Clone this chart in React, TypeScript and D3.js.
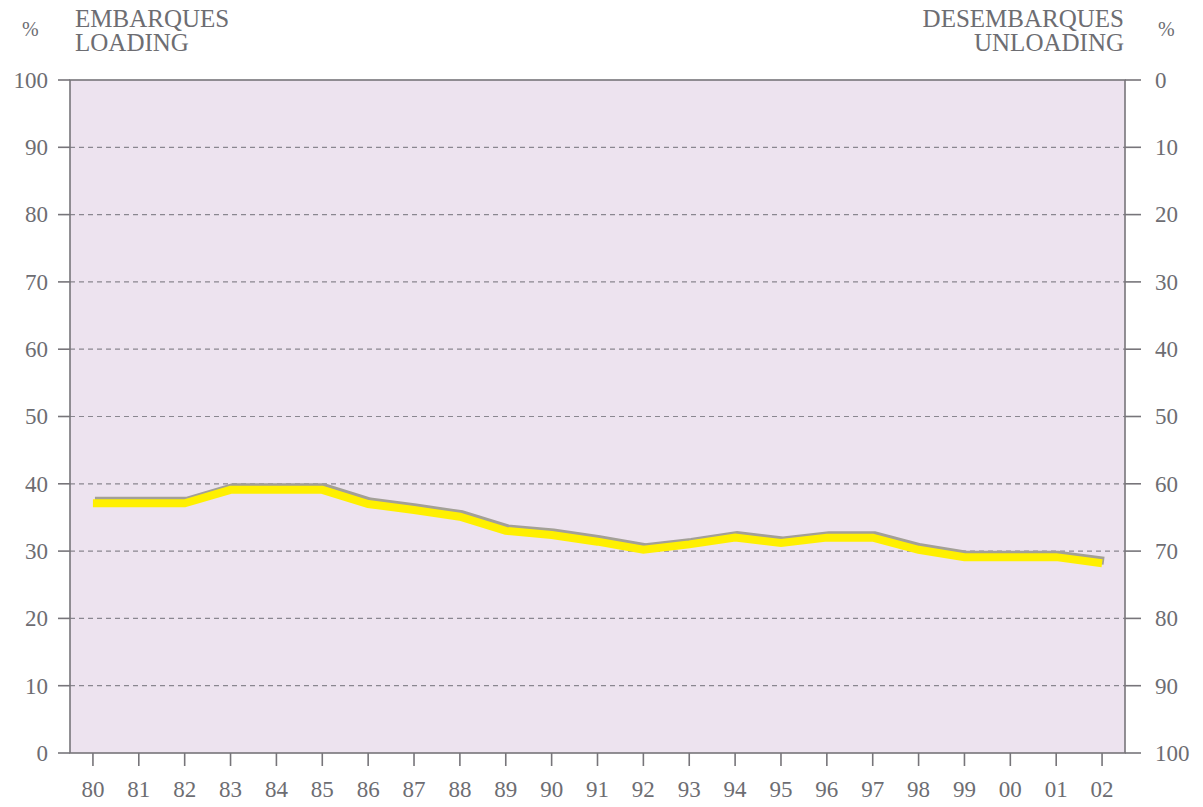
import React from "react";
import * as d3 from "d3";

const years = ["80","81","82","83","84","85","86","87","88","89","90","91","92","93","94","95","96","97","98","99","00","01","02"];
const loading = [37.1,37.1,37.1,39.1,39.1,39.1,37.0,36.1,35.1,33.0,32.4,31.4,30.2,31.0,32.0,31.2,32.0,32.0,30.2,29.1,29.1,29.1,28.2];
const leftTicks = [0,10,20,30,40,50,60,70,80,90,100];
const gridTicks = [10,20,30,40,50,60,70,80,90];

const W = 1203, H = 807;
const L = 70, R = 1125, T = 80, B = 753;
const TXT = "#6d6d72";
const FONT = "'Liberation Serif', 'DejaVu Serif', serif";

export default function App() {
  const x = d3.scalePoint<string>().domain(years).range([L, R]).padding(0.5);
  const y = d3.scaleLinear().domain([0, 100]).range([B, T]);
  const yr = d3.scaleLinear().domain([0, 100]).range([T, B]);
  const line = d3.line<number>().x((_, i) => x(years[i])!).y((d) => y(d));
  const path = line(loading) || "";

  return (
    <svg width={W} height={H} style={{ position: "absolute", left: 0, top: 0 }} fontFamily={FONT}>
      <rect x={L} y={T} width={R - L} height={B - T} fill="#ede3ef" />
      {gridTicks.map((t) => (
        <line key={t} x1={L} x2={R} y1={y(t)} y2={y(t)} stroke="#8a8790" strokeWidth={1.2} strokeDasharray="5,4" />
      ))}
      {/* shadow line */}
      <path d={path} transform="translate(2,-2.5)" fill="none" stroke="#a3a097" strokeWidth={8} strokeLinejoin="miter" strokeLinecap="butt" />
      <path d={path} fill="none" stroke="#fff000" strokeWidth={8} strokeLinejoin="miter" strokeLinecap="butt" />
      {/* frame */}
      <rect x={L} y={T} width={R - L} height={B - T} fill="none" stroke="#77757a" strokeWidth={1.6} />
      {/* left ticks */}
      {leftTicks.map((t) => (
        <g key={"l" + t}>
          <line x1={58} x2={L} y1={y(t)} y2={y(t)} stroke="#77757a" strokeWidth={1.6} />
          <text x={48} y={y(t)} dy="0.34em" textAnchor="end" fontSize={23} fill={TXT}>{t}</text>
        </g>
      ))}
      {/* right ticks */}
      {leftTicks.map((t) => (
        <g key={"r" + t}>
          <line x1={R} x2={1141} y1={yr(t)} y2={yr(t)} stroke="#77757a" strokeWidth={1.6} />
          <text x={1155} y={yr(t)} dy="0.34em" textAnchor="start" fontSize={23} fill={TXT}>{t}</text>
        </g>
      ))}
      {/* bottom ticks */}
      {years.map((yy) => (
        <g key={"b" + yy}>
          <line x1={x(yy)} x2={x(yy)} y1={B} y2={766} stroke="#77757a" strokeWidth={1.6} />
          <text x={x(yy)} y={797} textAnchor="middle" fontSize={23} fill={TXT}>{yy}</text>
        </g>
      ))}
      {/* titles */}
      <text x={22} y={36} fontSize={20} fill={TXT}>%</text>
      <text x={75} y={27} fontSize={25} fill={TXT}>EMBARQUES</text>
      <text x={75} y={51} fontSize={25} fill={TXT}>LOADING</text>
      <text x={1124} y={27} fontSize={25} fill={TXT} textAnchor="end">DESEMBARQUES</text>
      <text x={1124} y={51} fontSize={25} fill={TXT} textAnchor="end">UNLOADING</text>
      <text x={1158} y={36} fontSize={20} fill={TXT}>%</text>
    </svg>
  );
}
